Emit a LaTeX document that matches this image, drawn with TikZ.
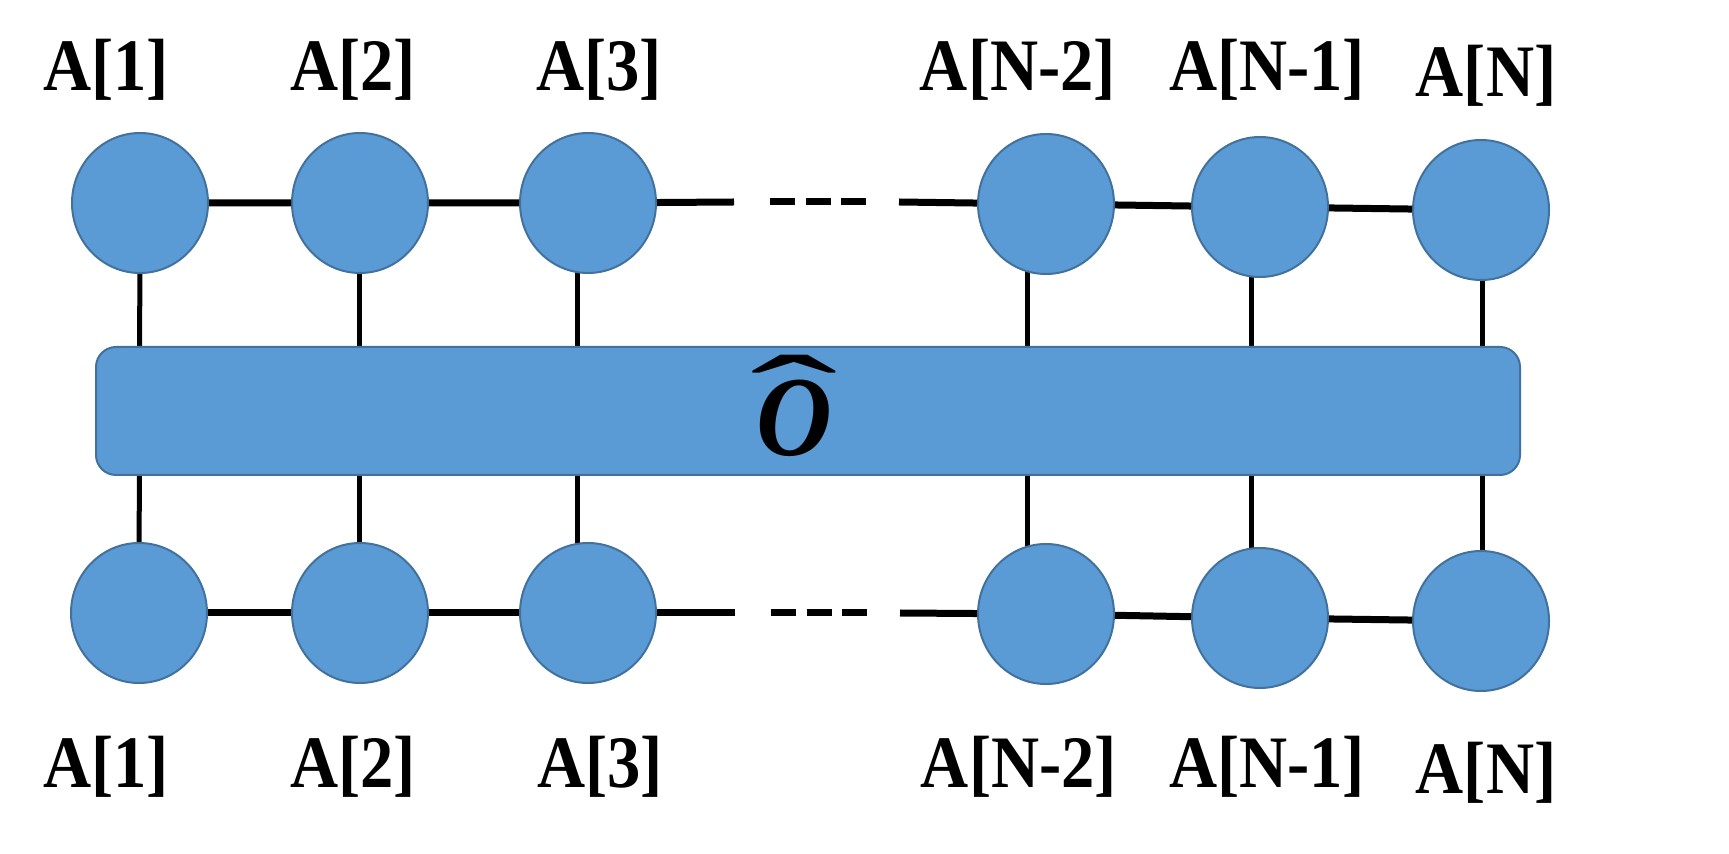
\documentclass[tikz,border=0pt]{standalone}
\usepackage{graphicx}
\usepackage{fontspec}
\setmainfont{Liberation Serif}
\usetikzlibrary{shapes.geometric,backgrounds}
\definecolor{nodeblue}{HTML}{5B9BD5}
\definecolor{edgeblue}{HTML}{41719C}
\newcommand{\sitelabel}[1]{\scalebox{0.9}[1]{#1}}
\begin{document}
\begin{tikzpicture}[x=0.5pt,y=-0.5pt,
  site/.style={ellipse, fill=nodeblue, draw=edgeblue, line width=1pt, minimum width=68pt, minimum height=70pt, inner sep=0pt},
  opbox/.style={rectangle, rounded corners=10pt, fill=nodeblue, draw=edgeblue, line width=1pt, minimum width=712pt, minimum height=64pt, inner sep=0pt},
  bond/.style={line width=3.5pt, black},
  leg/.style={line width=2.5pt, black},
  dots/.style={line width=3.5pt, black, dash pattern=on 12.5pt off 5.25pt},
  lab/.style={anchor=base, font=\fontsize{37}{40}\selectfont\bfseries, inner sep=0pt},
]
\useasboundingbox (0,0) rectangle (1729,854);

% operator box
\node[opbox] (op) at (808,411) {};
\node[anchor=base, inner sep=0pt] (ohat) at (794,456)
  {\fontsize{57}{60}\selectfont\bfseries\itshape\ooalign{\scalebox{0.92}[1]{O}\cr\hidewidth\raisebox{0.15em}{\scalebox{2.3}[1.05]{\mdseries\upshape ˆ}}\hidewidth\cr}};

% top sites
\node[site] (t1) at (140,203) {};
\node[site] (t2) at (360,203) {};
\node[site] (t3) at (588,203) {};
\node[site] (t4) at (1046,204) {};
\node[site] (t5) at (1260,207) {};
\node[site] (t6) at (1481,210) {};
% bottom sites
\node[site] (b1) at (139,613) {};
\node[site] (b2) at (360,613) {};
\node[site] (b3) at (588,613) {};
\node[site] (b4) at (1046,614) {};
\node[site] (b5) at (1260,618) {};
\node[site] (b6) at (1481,621) {};

\coordinate (tL) at (734,202);
\coordinate (tR) at (899,202);
\coordinate (tdA) at (770,202);
\coordinate (tdB) at (866,202);
\coordinate (bL) at (735,613);
\coordinate (bR) at (900,613);
\coordinate (bdA) at (771,613);
\coordinate (bdB) at (867,613);

\begin{pgfonlayer}{background}
\draw[leg] (t1.center) -- (b1.center);
\draw[leg] ([xshift=-0.5pt]t2.center) -- ([xshift=-0.5pt]b2.center);
\draw[leg] ([xshift=-5.5pt]t3.center) -- ([xshift=-5.5pt]b3.center);
\draw[leg] ([xshift=-9.5pt]t4.center) -- ([xshift=-9.5pt]b4.center);
\draw[leg] ([xshift=-4.5pt]t5.center) -- ([xshift=-4.5pt]b5.center);
\draw[leg] ([xshift=0.5pt]t6.center) -- ([xshift=0.5pt]b6.center);
\end{pgfonlayer}

\draw[bond] (t1) -- (t2) -- (t3) -- (tL);
\draw[bond] (tR) -- (t4) -- (t5) -- (t6);
\draw[dots] (tdA) -- (tdB);
\draw[bond] (b1) -- (b2) -- (b3) -- (bL);
\draw[bond] (bR) -- (b4) -- (b5) -- (b6);
\draw[dots] (bdA) -- (bdB);

% top labels
\node[lab] (lt1) at (106,91) {\sitelabel{A[1]}};
\node[lab] (lt2) at (353,91) {\sitelabel{A[2]}};
\node[lab] (lt3) at (599,91) {\sitelabel{A[3]}};
\node[lab] (lt4) at (1018,91) {\sitelabel{A[N-2]}};
\node[lab] (lt5) at (1267,91) {\sitelabel{A[N-1]}};
\node[lab] (lt6) at (1486,97) {\sitelabel{A[N]}};
% bottom labels
\node[lab] (lb1) at (106,787) {\sitelabel{A[1]}};
\node[lab] (lb2) at (353,787) {\sitelabel{A[2]}};
\node[lab] (lb3) at (600,787) {\sitelabel{A[3]}};
\node[lab] (lb4) at (1019,787) {\sitelabel{A[N-2]}};
\node[lab] (lb5) at (1267,787) {\sitelabel{A[N-1]}};
\node[lab] (lb6) at (1486,793) {\sitelabel{A[N]}};
\end{tikzpicture}
\end{document}
